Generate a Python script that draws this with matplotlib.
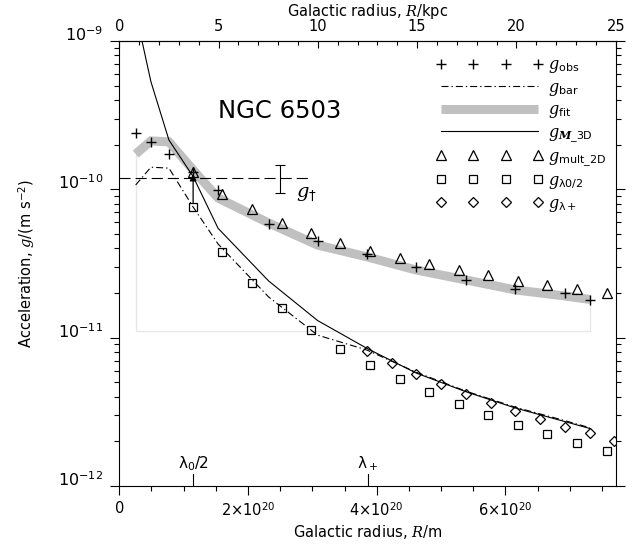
import numpy as np
import matplotlib
matplotlib.use("Agg")
import matplotlib.pyplot as plt
from matplotlib.ticker import FixedLocator, FuncFormatter, LogFormatterSciNotation, NullFormatter

plt.rcParams["font.family"] = "DejaVu Sans"
plt.rcParams["mathtext.fontset"] = "custom"
plt.rcParams["mathtext.rm"] = "DejaVu Sans"
plt.rcParams["mathtext.sf"] = "DejaVu Sans"
plt.rcParams["mathtext.it"] = "DejaVu Serif:italic"
plt.rcParams["mathtext.bf"] = "DejaVu Sans:bold"
plt.rcParams["mathtext.bfit"] = "DejaVu Serif:italic:bold"

KPC = 3.0857e19  # metres per kpc
E20 = 1e20

# observed radii (1e20 m) and the curves evaluated there
r_obs = np.array([0.254, 0.491, 0.771, 1.147, 1.535, 2.321, 3.081, 3.845,
                  4.611, 5.386, 6.150, 6.921, 7.313])
g_obs = np.array([2.41e-10, 2.07e-10, 1.72e-10, 1.31e-10, 9.9e-11, 5.84e-11,
                  4.45e-11, 3.65e-11, 2.98e-11, 2.44e-11, 2.13e-11, 2.01e-11, 1.80e-11])
g_fit = np.array([1.73e-10, 2.12e-10, 2.09e-10, 1.35e-10, 8.74e-11, 5.93e-11,
                  4.21e-11, 3.51e-11, 2.86e-11, 2.45e-11, 2.10e-11, 1.91e-11, 1.81e-11])
g_bar = np.array([1.07e-10, 1.41e-10, 1.39e-10, 7.60e-11, 4.28e-11, 1.88e-11,
                  1.04e-11, 8.26e-12, 5.85e-12, 4.36e-12, 3.40e-12, 2.76e-12, 2.47e-12])
g_m3d = np.array([1.57e-9, 5.32e-10, 2.15e-10, 1.22e-10, 5.46e-11, 2.41e-11,
                  1.305e-11, 8.48e-12, 5.78e-12, 4.32e-12, 3.36e-12, 2.72e-12, 2.44e-12])

# multiplied-2D and lambda_0/2 models (same radii)
r_mult = np.array([1.147, 1.603, 2.062, 2.522, 2.983, 3.437, 3.898, 4.357,
                   4.817, 5.277, 5.736, 6.192, 6.651, 7.107, 7.572])
g_mult = np.array([1.315e-10, 9.30e-11, 7.33e-11, 5.96e-11, 5.05e-11, 4.37e-11,
                   3.86e-11, 3.46e-11, 3.14e-11, 2.86e-11, 2.63e-11, 2.42e-11,
                   2.25e-11, 2.12e-11, 1.99e-11])
g_lam0 = np.array([7.63e-11, 3.80e-11, 2.32e-11, 1.58e-11, 1.13e-11, 8.39e-12,
                   6.54e-12, 5.24e-12, 4.27e-12, 3.57e-12, 3.02e-12, 2.59e-12,
                   2.24e-12, 1.96e-12, 1.73e-12])

# lambda_+ model
r_lamp = np.array([3.845, 4.233, 4.611, 4.998, 5.386, 5.774, 6.155, 6.543,
                   6.926, 7.313, 7.685])
g_lamp = np.array([8.13e-12, 6.71e-12, 5.69e-12, 4.85e-12, 4.17e-12, 3.64e-12,
                   3.19e-12, 2.82e-12, 2.51e-12, 2.27e-12, 2.02e-12])

lam0_half = 1.147   # 1e20 m
lam_plus = 3.86     # 1e20 m
g_dagger = 1.2e-10
g_dagger_err = 0.25e-10
g_dagger_rmax = 3.0   # 1e20 m, extent of the dashed line
g_dagger_bar_r = 2.49  # 1e20 m
fit_floor = 1.11e-11

x_major = [0, 2, 4, 6]          # 1e20 m
kpc_major = [0, 5, 10, 15, 20, 25]
y_major = [1e-12, 1e-11, 1e-10, 1e-9]

fig = plt.figure(figsize=(6.37, 5.52), dpi=100)
ax = fig.add_axes([0.1873, 0.1196, 0.7793, 0.8061])
ax.set_yscale("log")
ax.set_xlim(0, 25 * KPC)
ax.set_ylim(1e-12, 1e-9)

# fit region outline and band
ax.plot(np.array([r_obs[0], r_obs[0], r_obs[-1], r_obs[-1]]) * E20,
        [g_fit[0], fit_floor, fit_floor, g_fit[-1]], color="#e6e6e6", lw=0.9, zorder=1)
h_fit, = ax.plot(r_obs * E20, g_fit, color="#c0c0c0", lw=6.5, solid_capstyle="butt",
                 solid_joinstyle="miter", zorder=2)
h_bar, = ax.plot(r_obs * E20, g_bar, color="k", lw=0.8,
                 linestyle=(0, (6.3, 2.7, 1.2, 2.7)), zorder=3)
h_m3d, = ax.plot(r_obs * E20, g_m3d, color="k", lw=0.8, zorder=3)
h_obs, = ax.plot(r_obs * E20, g_obs, "k+", ms=7, mew=1.0, zorder=5)
h_mult, = ax.plot(r_mult * E20, g_mult, "^", ms=7.5, mfc="none", mec="k", mew=0.9, zorder=4)
h_lam0, = ax.plot(r_mult * E20, g_lam0, "s", ms=5.3, mfc="none", mec="k", mew=0.9, zorder=4)
h_lamp, = ax.plot(r_lamp * E20, g_lamp, "D", ms=5.0, mfc="none", mec="k", mew=0.9, zorder=4)

# g_dagger line, error bar and arrow
ax.plot([0, g_dagger_rmax * E20], [g_dagger, g_dagger], color="k", lw=0.8,
        dashes=(10, 4.5), zorder=3)
ax.errorbar(g_dagger_bar_r * E20, g_dagger, yerr=g_dagger_err, fmt="none", ecolor="k",
            elinewidth=0.8, capsize=3.5, capthick=0.8)
ax.text(g_dagger_bar_r * E20 + 0.26 * E20, 9.3e-11, r"$g_\dag$", fontsize=14,
        ha="left", va="center")
ax.annotate("", xy=(lam0_half * E20, 1.27e-10), xytext=(lam0_half * E20, g_lam0[0]),
            arrowprops=dict(arrowstyle="-|>", color="k", lw=0.9, mutation_scale=10,
                            shrinkA=3, shrinkB=0), zorder=6)

ax.text(1.535 * E20, 3.4e-10, "NGC 6503", fontsize=17.5, ha="left", va="center")

# lambda markers on the bottom axis
for xv, lab in [(lam0_half, r"λ$_0$/2"), (lam_plus, r"λ$_+$")]:
    ax.axvline(xv * E20, 0, 0.027, color="k", lw=0.8)
    ax.text(xv * E20, 0.03, lab, transform=ax.get_xaxis_transform(), ha="center",
            va="bottom", fontsize=11)


def xfmt(v, pos):
    if abs(v) < 1:
        return "0"
    return r"$%d{\times}10^{20}$" % round(v / E20)


y_minor = [m * d for d in y_major[:-1] for m in range(2, 10)]

ax.xaxis.set_major_locator(FixedLocator(np.array(x_major) * E20))
ax.xaxis.set_minor_locator(FixedLocator(np.arange(0, 7.6, 0.5) * E20))
ax.xaxis.set_major_formatter(FuncFormatter(xfmt))
ax.yaxis.set_major_locator(FixedLocator(y_major))
ax.yaxis.set_major_formatter(LogFormatterSciNotation())
ax.yaxis.set_minor_locator(FixedLocator(y_minor))
ax.yaxis.set_minor_formatter(NullFormatter())
ax.tick_params(which="both", direction="out", top=False, right=True, labelsize=10.5, width=0.8)
ax.tick_params(which="major", length=6.8, pad=4)
ax.tick_params(which="minor", length=3.3)
ax.tick_params(axis="y", which="major", pad=5, labelsize=11.5)
for s in ax.spines.values():
    s.set_linewidth(0.8)

ax.set_xlabel("Galactic radius, $R$/m", fontsize=10.5, labelpad=3)
ax.set_ylabel(r"Acceleration, $g$/(m s$^{-2}$)", fontsize=10.5, labelpad=15)

sec = ax.secondary_xaxis("top", functions=(lambda x: x / KPC, lambda x: x * KPC))
sec.xaxis.set_major_locator(FixedLocator(kpc_major))
sec.xaxis.set_minor_locator(FixedLocator(np.arange(0, 26, 1)))
sec.tick_params(which="both", direction="in", labelsize=10.5, width=0.8, pad=5)
sec.tick_params(which="major", length=5)
sec.tick_params(which="minor", length=3)
sec.set_xlabel("Galactic radius, $R$/kpc", fontsize=10.5, labelpad=2.5)

handles = [h_obs, h_bar, h_fit, h_m3d, h_mult, h_lam0, h_lamp]
labels = [r"$g_\mathrm{obs}$", r"$g_\mathrm{bar}$", r"$g_\mathrm{fit}$",
          r"$g_{\mathbfit{M}\mathrm{\_3D}}$", r"$g_\mathrm{mult\_2D}$",
          r"$g_\mathrm{λ0/2}$", r"$g_\mathrm{λ+}$"]
ax.legend(handles, labels, loc="upper left", bbox_to_anchor=(0.638, 0.963), numpoints=4,
          handlelength=6.7, handletextpad=0.3, labelspacing=0.28, frameon=False,
          fontsize=11.5, borderpad=0, borderaxespad=0)

fig.canvas.draw()
plt.setp(ax.get_yticklabels(), va="baseline")

fig.savefig("out.png", dpi=100)
